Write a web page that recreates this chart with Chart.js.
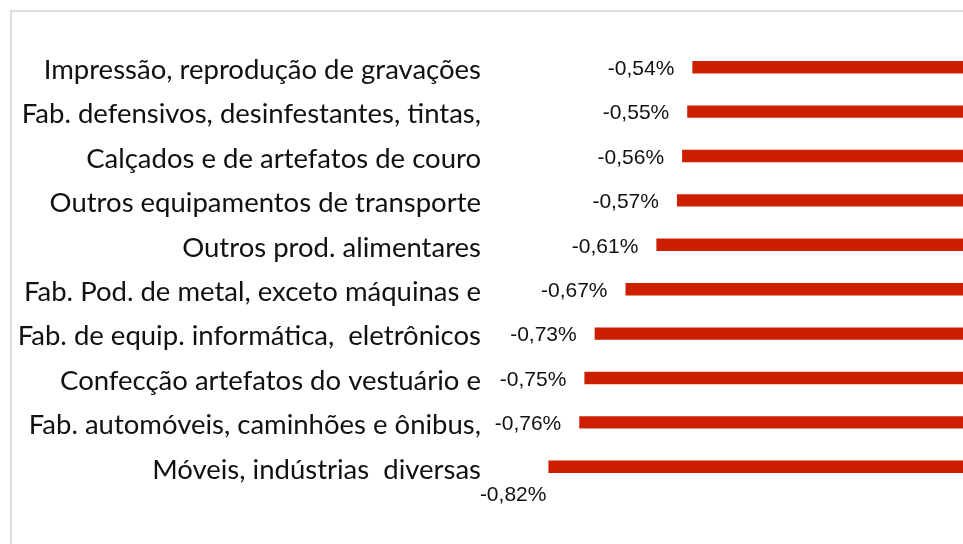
<!DOCTYPE html>
<html>
<head>
<meta charset="utf-8">
<script src="https://cdn.jsdelivr.net/npm/chart.js@4/dist/chart.umd.min.js"></script>
<style>
  html, body { margin: 0; padding: 0; background: #fff; overflow: hidden; }
  #wrap { position: relative; width: 980px; height: 544px; }
  #frame { position: absolute; left: 10px; top: 10px; width: 1000px; height: 600px;
           border-left: 2px solid #dedede; border-top: 2px solid #dedede; }
  canvas { position: absolute; left: 0; top: 0; }
</style>
</head>
<body>
<div id="wrap">
  <div id="frame"></div>
  <canvas id="c" width="980" height="544"></canvas>
</div>
<script>
const categories = [
  "Impressão, reprodução de gravações",
  "Fab. defensivos, desinfestantes, tintas,",
  "Calçados e de artefatos de couro",
  "Outros equipamentos de transporte",
  "Outros prod. alimentares",
  "Fab. Pod. de metal, exceto máquinas e",
  "Fab. de equip. informática,  eletrônicos",
  "Confecção artefatos do vestuário e",
  "Fab. automóveis, caminhões e ônibus,",
  "Móveis, indústrias  diversas"
];
const values = [-0.54, -0.55, -0.56, -0.57, -0.61, -0.67, -0.73, -0.75, -0.76, -0.82];
const valueLabels = ["-0,54%", "-0,55%", "-0,56%", "-0,57%", "-0,61%", "-0,67%", "-0,73%", "-0,75%", "-0,76%", "-0,82%"];

const labelPlugin = {
  id: 'labelPlugin',
  afterDatasetsDraw(chart) {
    const ctx = chart.ctx;
    const meta = chart.getDatasetMeta(0);
    const yScale = chart.scales.y;
    ctx.save();
    // category labels
    ctx.font = '27.5px Lato, "Open Sans", sans-serif';
    ctx.fillStyle = '#111';
    ctx.textAlign = 'right';
    ctx.textBaseline = 'middle';
    categories.forEach((c, i) => {
      const y = yScale.getPixelForValue(i);
      ctx.fillText(c, 481, y + 3);
    });
    // value labels
    ctx.font = '21px "Liberation Sans", Arial, sans-serif';
    ctx.fillStyle = '#111';
    meta.data.forEach((bar, i) => {
      const last = i === meta.data.length - 1;
      if (last) {
        ctx.fillText(valueLabels[i], bar.x - 2, bar.y + 28);
      } else {
        ctx.fillText(valueLabels[i], bar.x - 18, bar.y + 2);
      }
    });
    ctx.restore();
  }
};

new Chart(document.getElementById('c'), {
  type: 'bar',
  data: {
    labels: categories,
    datasets: [{
      data: values,
      backgroundColor: '#cd1f00',
      borderWidth: 0,
      barPercentage: 0.28,
      categoryPercentage: 1.0
    }]
  },
  options: {
    indexAxis: 'y',
    responsive: false,
    animation: false,
    layout: { padding: { left: 497, right: 10, top: 45, bottom: 55 } },
    plugins: { legend: { display: false }, tooltip: { enabled: false } },
    scales: {
      x: { display: false, min: -0.92, max: 0 },
      y: { display: false }
    }
  },
  plugins: [labelPlugin]
});
</script>
</body>
</html>
